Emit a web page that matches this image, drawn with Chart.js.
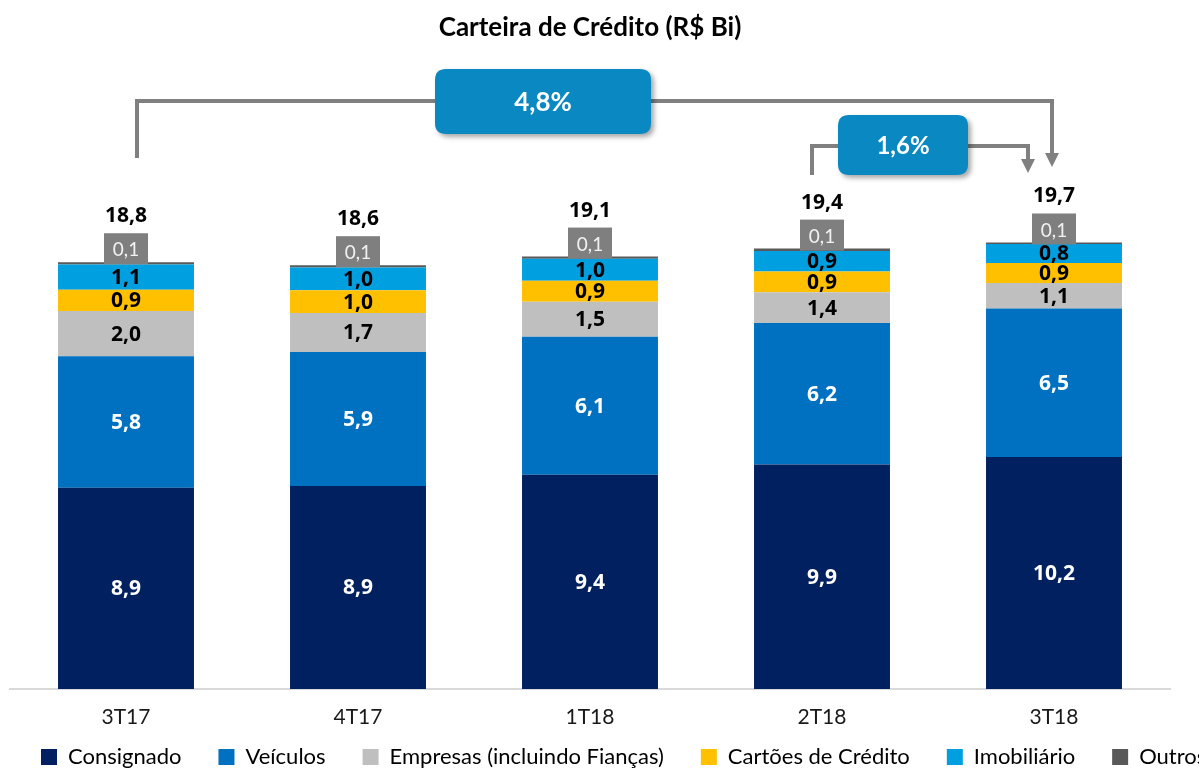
<!DOCTYPE html>
<html><head><meta charset="utf-8">
<script src="https://cdn.jsdelivr.net/npm/chart.js@4.4.1/dist/chart.umd.min.js"></script>
<style>html,body{margin:0;padding:0;background:#fff;overflow:hidden}canvas{display:block}</style>
</head><body>
<canvas id="c" width="1199" height="769"></canvas>
<script>
const categories = ['3T17', '4T17', '1T18', '2T18', '3T18'];
const consignado = [8.86, 8.94, 9.43, 9.89, 10.22];
const veiculos = [5.79, 5.90, 6.08, 6.22, 6.53];
const empresas = [1.99, 1.72, 1.54, 1.36, 1.13];
const cartoes = [0.94, 1.00, 0.92, 0.91, 0.88];
const imobiliario = [1.11, 1.00, 0.97, 0.91, 0.83];
const outros = [0.10, 0.10, 0.10, 0.10, 0.07];
const totais = [18.8, 18.6, 19.1, 19.4, 19.7];
const crescimento = ['4,8%', '1,6%'];
const seriesNames = ['Consignado', 'Veículos', 'Empresas (incluindo Fianças)', 'Cartões de Crédito', 'Imobiliário', 'Outros'];

const colors = ['#002060', '#0070c0', '#bfbfbf', '#ffc000', '#009fe0', '#595959'];
const labelColors = ['#ffffff', '#ffffff', '#000000', '#000000', '#000000', null];
const FONT = 'Lato, "Open Sans", sans-serif';
const NUMFONT = '"Open Sans", Lato, sans-serif';
const fmt = v => v.toFixed(1).replace('.', ',');

const seriesData = [consignado, veiculos, empresas, cartoes, imobiliario, outros];
const datasets = seriesData.map((d, i) => ({
  label: seriesNames[i], data: d, backgroundColor: colors[i], borderWidth: 0,
  categoryPercentage: 1, barPercentage: 0.586
}));

const labelPlugin = {
  id: 'labels',
  afterDatasetsDraw(chart) {
    const ctx = chart.ctx;
    ctx.save();
    ctx.textAlign = 'center';
    ctx.textBaseline = 'middle';
    for (let d = 0; d < 5; d++) {
      const meta = chart.getDatasetMeta(d);
      ctx.font = 'bold 21px ' + NUMFONT;
      ctx.fillStyle = labelColors[d];
      meta.data.forEach((el, i) => {
        ctx.fillText(fmt(seriesData[d][i]), el.x, (el.y + el.base) / 2 + 1);
      });
    }
    const mo = chart.getDatasetMeta(5);
    mo.data.forEach((el, i) => {
      const cy = el.y - 13;
      ctx.fillStyle = '#7f7f7f';
      ctx.fillRect(el.x - 22, cy - 16, 44, 31);
      ctx.fillStyle = '#f2f2f2';
      ctx.font = '19px ' + FONT;
      ctx.fillText(fmt(outros[i]), el.x, cy + 1);
      ctx.fillStyle = '#000';
      ctx.font = 'bold 21px ' + NUMFONT;
      ctx.fillText(fmt(totais[i]), el.x, el.y - 46);
    });
    ctx.restore();
  }
};

function roundRect(ctx, x, y, w, h, r) {
  ctx.beginPath();
  ctx.moveTo(x + r, y);
  ctx.lineTo(x + w - r, y); ctx.quadraticCurveTo(x + w, y, x + w, y + r);
  ctx.lineTo(x + w, y + h - r); ctx.quadraticCurveTo(x + w, y + h, x + w - r, y + h);
  ctx.lineTo(x + r, y + h); ctx.quadraticCurveTo(x, y + h, x, y + h - r);
  ctx.lineTo(x, y + r); ctx.quadraticCurveTo(x, y, x + r, y);
  ctx.closePath();
}

const growthPlugin = {
  id: 'growth',
  afterDraw(chart) {
    const ctx = chart.ctx;
    const bars = chart.getDatasetMeta(0).data;
    ctx.save();
    ctx.strokeStyle = '#808080';
    ctx.fillStyle = '#808080';
    ctx.lineWidth = 4;
    ctx.lineJoin = 'miter';
    const bracket = (xa, xb, yTop, yStartA, yArrowTip) => {
      ctx.beginPath();
      ctx.moveTo(xa, yStartA); ctx.lineTo(xa, yTop); ctx.lineTo(xb, yTop); ctx.lineTo(xb, yArrowTip - 13);
      ctx.stroke();
      ctx.beginPath();
      ctx.moveTo(xb - 7, yArrowTip - 14); ctx.lineTo(xb + 7, yArrowTip - 14); ctx.lineTo(xb, yArrowTip);
      ctx.closePath(); ctx.fill();
    };
    bracket(bars[0].x + 11, bars[4].x - 2, 101, 158, 167);
    bracket(bars[3].x - 10, bars[4].x - 26, 146, 175, 173);
    const box = (x, y, w, h, txt, size) => {
      ctx.save();
      ctx.shadowColor = 'rgba(0,0,0,0.35)';
      ctx.shadowBlur = 5; ctx.shadowOffsetX = 3; ctx.shadowOffsetY = 3;
      ctx.fillStyle = '#0a88c2';
      roundRect(ctx, x, y, w, h, 11);
      ctx.fill();
      ctx.restore();
      ctx.fillStyle = '#ffffff';
      ctx.font = 'bold ' + size + 'px ' + FONT;
      ctx.textAlign = 'center'; ctx.textBaseline = 'middle';
      ctx.fillText(txt, x + w / 2, y + h / 2 + 1);
    };
    box(435, 69, 216, 65, crescimento[0], 26);
    box(838, 115, 130, 60, crescimento[1], 24);
    ctx.restore();
  }
};

const layoutPlugin = {
  id: 'legendShift',
  afterLayout(chart) {
    const lg = chart.legend;
    if (lg) { const h = lg.height; lg.left = 4; lg.right = 3000; lg.top = 709; lg.bottom = 709 + h; }
  }
};

function build() {
  new Chart(document.getElementById('c'), {
    type: 'bar',
    data: { labels: categories, datasets },
    options: {
      responsive: false,
      animation: false,
      layout: { padding: { left: 10, right: 29, top: 0, bottom: -38 } },
      scales: {
        x: {
          stacked: true,
          grid: { display: false, drawTicks: false },
          border: { display: true, color: '#d9d9d9', width: 2 },
          ticks: { color: '#1a1a1a', font: { family: FONT, size: 21 }, padding: 16 },
          afterFit: s => { s.height = 45; }
        },
        y: { stacked: true, display: false, min: 0, max: 25 }
      },
      plugins: {
        title: {
          display: true, text: 'Carteira de Crédito (R$ Bi)', color: '#000',
          font: { family: FONT, size: 26, weight: 'bold' },
          padding: { top: 12, bottom: 78 }
        },
        legend: {
          position: 'bottom', align: 'start', maxHeight: 73,
          labels: { boxWidth: 16, boxHeight: 16, padding: 37, color: '#000', font: { family: FONT, size: 22 } }
        },
        tooltip: { enabled: false }
      }
    },
    plugins: [labelPlugin, growthPlugin, layoutPlugin]
  });
}
Promise.all([
  document.fonts.load('21px Lato'), document.fonts.load('bold 21px Lato'),
  document.fonts.load('bold 21px "Open Sans"')
]).then(build, build);
</script>
</body></html>
